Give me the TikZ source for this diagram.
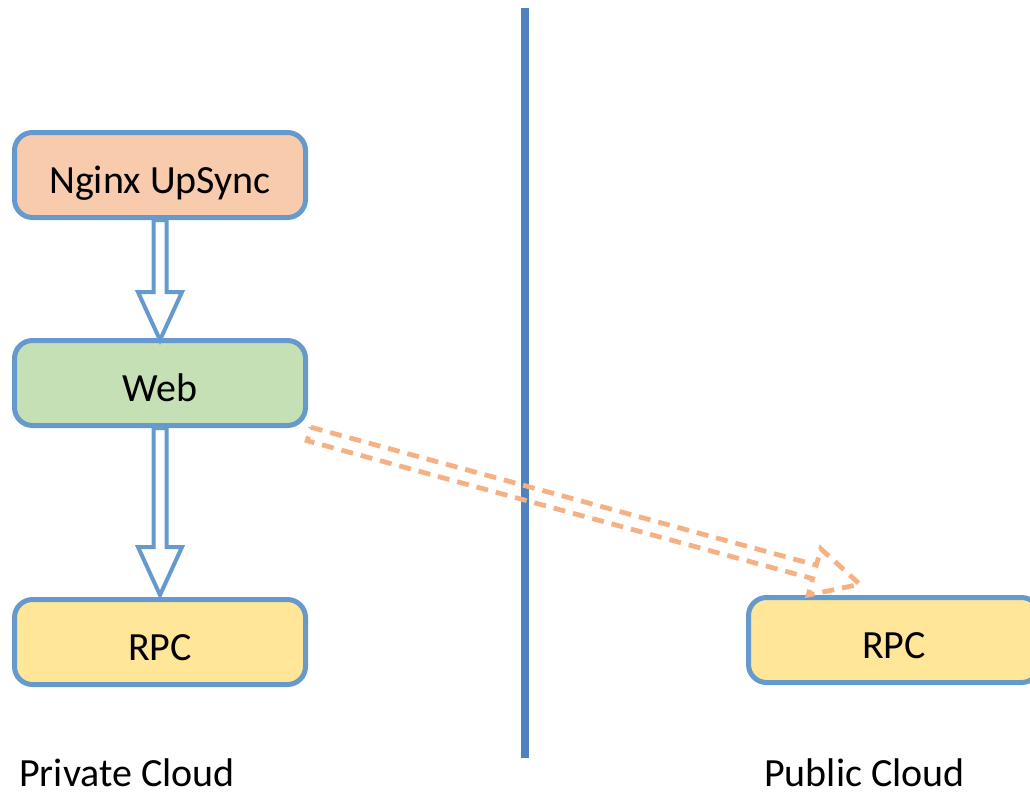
\documentclass[tikz,border=0pt]{standalone}
\usepackage{fontspec}
\setmainfont{Carlito}
\usetikzlibrary{calc}
\definecolor{boxline}{HTML}{6699CC}
\definecolor{divline}{HTML}{4F81BD}
\definecolor{nginxfill}{HTML}{F8CBAD}
\definecolor{webfill}{HTML}{C5E0B4}
\definecolor{rpcfill}{HTML}{FFE699}
\definecolor{dashc}{HTML}{F4B183}
\tikzset{
  box/.style={draw=boxline, line width=3.75pt, rounded corners=13.5pt,
    minimum width=218.25pt, minimum height=63.75pt, inner sep=0pt,
    font=\fontsize{30}{36}\selectfont, text=black, text height=33pt, text depth=6pt},
  blockarrow/.style={draw=boxline, fill=white, line width=3pt, line join=miter},
  dasharrow/.style={draw=dashc, line width=3.6pt, dash pattern=on 9pt off 6pt, line join=miter},
  divider/.style={draw=divline, line width=6pt},
  cloudlabel/.style={font=\fontsize{30}{36}\selectfont, text=black, inner sep=0pt, anchor=base west}
}
\begin{document}
\begin{tikzpicture}[x=0.75pt, y=-0.75pt]
\useasboundingbox (0,0) rectangle (1030,794);
\clip (0,0) rectangle (1030,794);
% divider
\coordinate (vt) at (525,8);
\coordinate (vb) at (525,758);
\draw[divider] (vt) -- (vb);
% boxes
\node[box, fill=nginxfill] (ng) at (160,175) {Nginx UpSync};
\node[box, fill=webfill] (web) at (160,383) {Web};
\node[box, fill=rpcfill] (rpc1) at (160,642) {RPC};
\node[box, fill=rpcfill] (rpc2) at (894,640) {RPC};
% block arrows
\coordinate (a1s) at (ng.south);
\coordinate (a1t) at ($(web.north)+(0,2)$);
\draw[blockarrow] ($(a1s)+(-6.5,0)$) -- ($(a1t)+(-6.5,-48)$) -- ($(a1t)+(-22,-48)$) -- (a1t)
  -- ($(a1t)+(22,-48)$) -- ($(a1t)+(6.5,-48)$) -- ($(a1s)+(6.5,0)$) -- cycle;
\coordinate (a2s) at (web.south);
\coordinate (a2t) at ($(rpc1.north)+(0,-2)$);
\draw[blockarrow] ($(a2s)+(-6.5,0)$) -- ($(a2t)+(-6.5,-48)$) -- ($(a2t)+(-22,-48)$) -- (a2t)
  -- ($(a2t)+(22,-48)$) -- ($(a2t)+(6.5,-48)$) -- ($(a2s)+(6.5,0)$) -- cycle;
% dashed block arrow
\begin{scope}[shift={($(web.south east)+(1,6)$)}, rotate=-15.26]
  \draw[dasharrow] (0,-7) -- (524,-7) -- (524,-24) -- (571,0) -- (524,24) -- (524,7) -- (0,7) -- cycle;
\end{scope}
% labels
\node[cloudlabel] (lpriv) at (19,786) {Private Cloud};
\node[cloudlabel] (lpub) at (764,786) {Public Cloud};
\end{tikzpicture}
\end{document}
